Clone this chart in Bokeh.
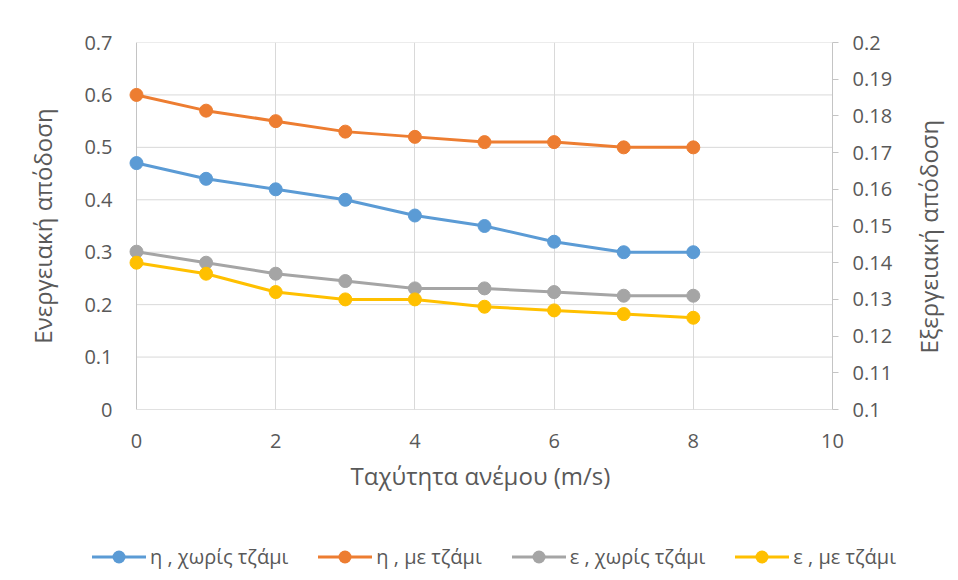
import math
from bokeh.plotting import figure
from bokeh.layouts import column
from bokeh.models import (Range1d, LinearAxis, FixedTicker, CustomJSTickFormatter, Div)
from bokeh.embed import file_html
from bokeh.resources import INLINE

# ---- data ----
wind = [0, 1, 2, 3, 4, 5, 6, 7, 8]
eta_no_glass = [0.47, 0.44, 0.42, 0.40, 0.37, 0.35, 0.32, 0.30, 0.30]
eta_glass = [0.60, 0.57, 0.55, 0.53, 0.52, 0.51, 0.51, 0.50, 0.50]
ex_no_glass = [0.143, 0.140, 0.137, 0.135, 0.133, 0.133, 0.132, 0.131, 0.131]
ex_glass = [0.140, 0.137, 0.132, 0.130, 0.130, 0.128, 0.127, 0.126, 0.125]

x_ticks = [0, 2, 4, 6, 8, 10]
left_ticks = [0, 0.1, 0.2, 0.3, 0.4, 0.5, 0.6, 0.7]
right_ticks = [0.1, 0.11, 0.12, 0.13, 0.14, 0.15, 0.16, 0.17, 0.18, 0.19, 0.2]

labels = ["η , χωρίς τζάμι", "η , με τζάμι", "ε , χωρίς τζάμι", "ε , με τζάμι"]
colors = ["#5B9BD5", "#ED7D31", "#A5A5A5", "#FFC000"]

x_title = "Ταχύτητα ανέμου (m/s)"
y_title = "Ενεργειακή απόδοση"
y2_title = "Εξεργειακή απόδοση"

FONT = "Open Sans"
TXT = "#595959"
GRID = "#d9d9d9"
AXIS = "#c4c4c4"

# small left padding (in data units) so the markers at x=0 are not clipped
XPAD = 0.115

fig = figure(frame_width=704, frame_height=367,
             x_range=Range1d(-XPAD, 10), y_range=Range1d(0, 0.7),
             output_backend="svg", toolbar_location=None,
             min_border_left=128, min_border_right=126, min_border_top=42, min_border_bottom=91)
fig.extra_y_ranges = {"ex": Range1d(0.1, 0.2)}
fig.outline_line_color = None
fig.background_fill_color = "white"
fig.border_fill_color = "white"

fmt = CustomJSTickFormatter(code="return String(Math.round(tick*100)/100);")

# x axis
xa = fig.xaxis[0]
xa.ticker = FixedTicker(ticks=x_ticks)
xa.formatter = fmt
xa.axis_label = x_title
xa.major_tick_out = 0
xa.major_tick_in = 0
xa.minor_tick_out = 0
xa.minor_tick_in = 0
xa.axis_line_color = None
xa.major_label_standoff = 24
xa.axis_label_standoff = 8

# left axis
ya = fig.yaxis[0]
ya.ticker = FixedTicker(ticks=left_ticks)
ya.formatter = fmt
ya.axis_label = y_title
ya.major_tick_out = 0
ya.major_tick_in = 0
ya.minor_tick_out = 0
ya.minor_tick_in = 0
ya.axis_line_color = None
ya.major_label_standoff = 16
ya.axis_label_standoff = 22

# right axis
ra = LinearAxis(y_range_name="ex", ticker=FixedTicker(ticks=right_ticks), formatter=fmt)
ra.major_tick_out = 6
ra.major_tick_in = 0
ra.minor_tick_out = 0
ra.minor_tick_in = 0
ra.axis_line_color = AXIS
ra.major_tick_line_color = AXIS
ra.major_label_standoff = 14
ra.axis_label_standoff = 33
try:
    ra.axis_label_align = "start"
    ra.axis_label_orientation = math.pi / 2
    ra.axis_label = "\u00a0" * 9 + y2_title
except AttributeError:
    ra.axis_label = y2_title
fig.add_layout(ra, "right")

for ax in [xa, ya, ra]:
    ax.major_label_text_font = FONT
    ax.major_label_text_font_size = "20px"
    ax.major_label_text_color = TXT
    ax.axis_label_text_font = FONT
    ax.axis_label_text_font_size = "24px"
    ax.axis_label_text_font_style = "normal"
    ax.axis_label_text_color = TXT

# grid: vertical lines via Grid, horizontal lines as segments from x=0 to x=10
fig.xgrid.ticker = FixedTicker(ticks=x_ticks)
fig.xgrid.grid_line_color = GRID
fig.ygrid.visible = False
hg_colors = [AXIS if t == 0 else GRID for t in left_ticks]
fig.segment(x0=[x_ticks[0]] * len(left_ticks), x1=[x_ticks[-1]] * len(left_ticks),
            y0=left_ticks, y1=left_ticks, line_color=hg_colors, line_width=1)
fig.segment(x0=[x_ticks[0]], x1=[x_ticks[0]], y0=[left_ticks[0]], y1=[left_ticks[-1]],
            line_color=AXIS, line_width=1)

series = [(eta_no_glass, "default"), (eta_glass, "default"),
          (ex_no_glass, "ex"), (ex_glass, "ex")]
for (vals, rng), col in zip(series, colors):
    fig.line(wind, vals, line_color=col, line_width=3, y_range_name=rng)
    fig.scatter(wind, vals, size=13, marker="circle", fill_color=col, line_color=col,
                y_range_name=rng)

# ---- legend strip below the chart (HTML, so nothing is clipped) ----
item_html = []
for i, (col, lab) in enumerate(zip(colors, labels)):
    gap = "30px" if i < len(labels) - 1 else "0px"
    item_html.append(
        f'<span style="display:inline-flex;align-items:center;margin-right:{gap};">'
        f'<svg width="54" height="16" style="display:block;">'
        f'<line x1="0" y1="8" x2="54" y2="8" stroke="{col}" stroke-width="3"/>'
        f'<circle cx="27" cy="8" r="6.5" fill="{col}"/></svg>'
        f'<span style="margin-left:4px;">{lab}</span></span>'
    )
legend_html = (
    f'<div style="display:flex;align-items:center;height:32px;margin-top:36px;'
    f'margin-left:87px;white-space:nowrap;font-family:\'{FONT}\',sans-serif;'
    f'font-size:20px;color:{TXT};">' + "".join(item_html) + '</div>'
)
legend_div = Div(text=legend_html, width=958, height=80)

p = column(fig, legend_div, spacing=0)

open("out.html", "w").write(file_html(p, INLINE))
